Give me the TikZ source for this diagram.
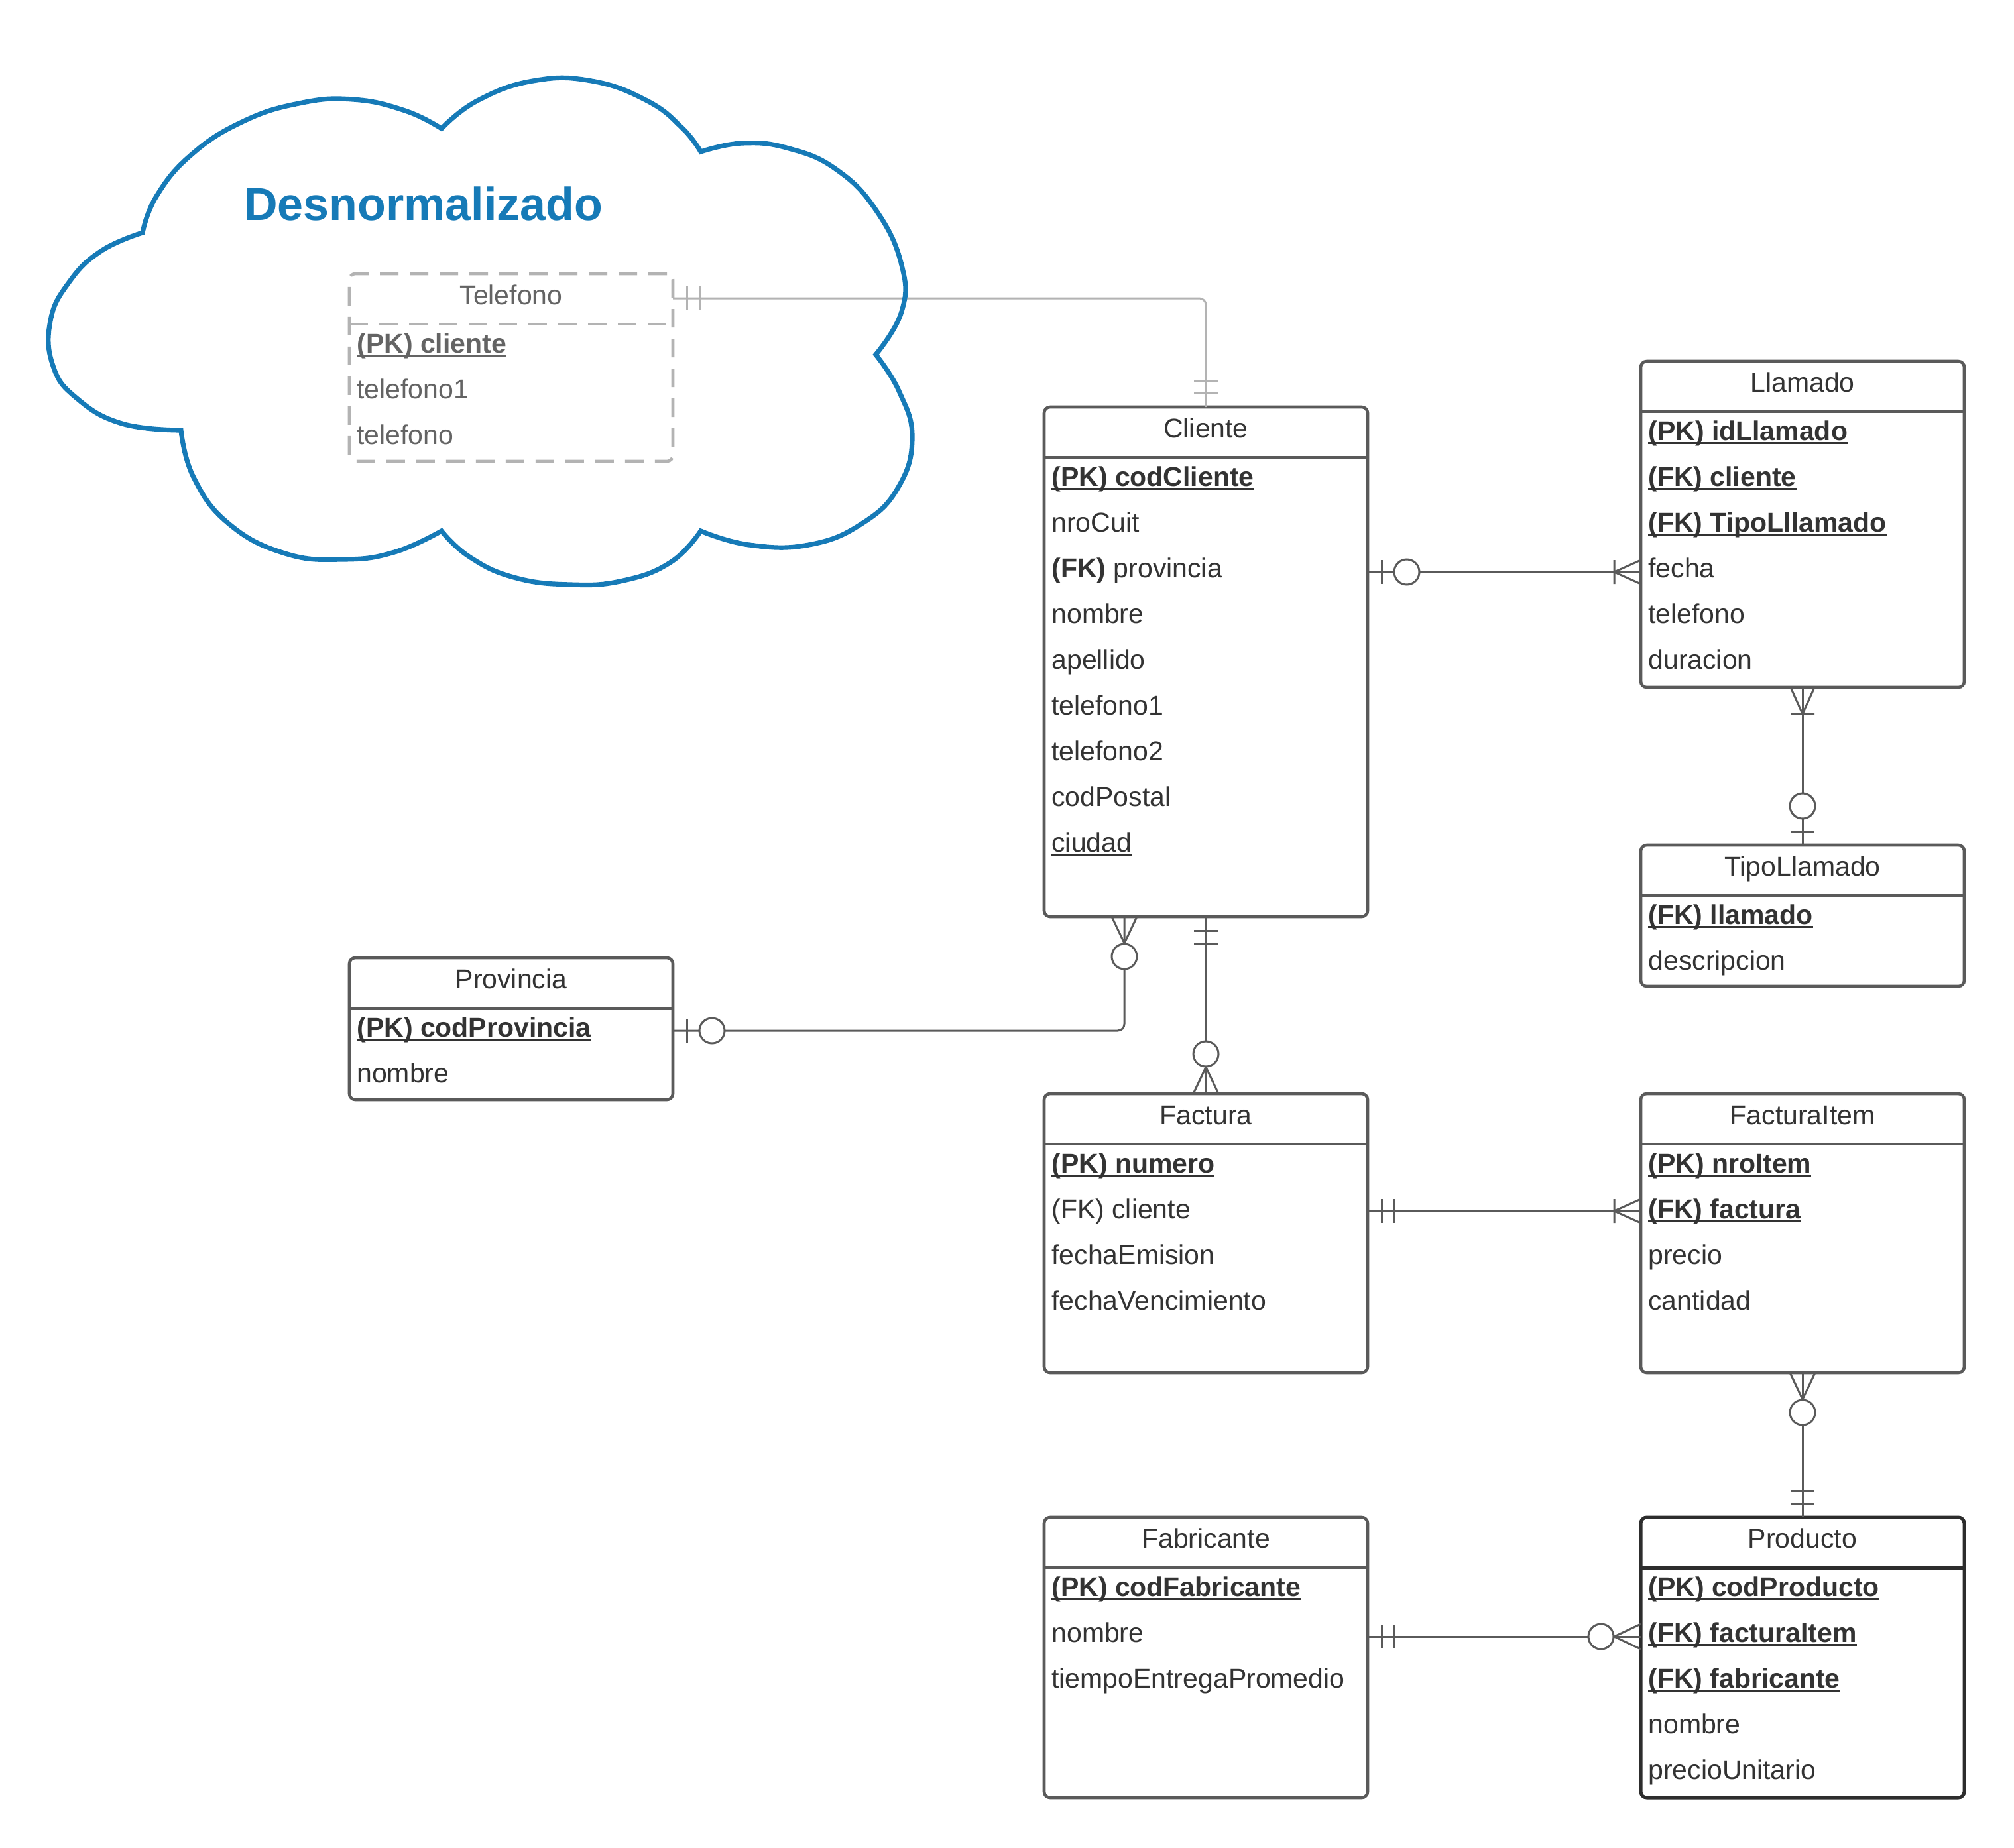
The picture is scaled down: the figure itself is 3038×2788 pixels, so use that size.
\documentclass[tikz,border=0pt]{standalone}
\usepackage{fontspec}
\setmainfont{Liberation Sans}
\usetikzlibrary{fit}

\definecolor{ink}{RGB}{51,51,51}
\definecolor{edge}{RGB}{90,90,90}
\definecolor{darkedge}{RGB}{45,45,45}
\definecolor{ghost}{RGB}{179,179,179}
\definecolor{ghosttext}{RGB}{100,100,100}
\definecolor{cloudblue}{RGB}{22,122,183}

% underline that crosses the parentheses, Arial-like position
\newcommand\ulx[1]{\setbox0\hbox{#1}\rlap{\rule[-2.9pt]{\wd0}{1.7pt}}\box0}
\newcommand\pk[1]{\ulx{\textbf{#1}}}

\tikzset{
  x=0.5pt, y=-0.5pt,
  txt/.style={inner sep=0pt, font=\fontsize{20.5pt}{24pt}\selectfont},
  % entity themes: plain, strong, faded
  plain box/.style={draw=edge, line width=2.3pt, fill=white, rounded corners=4.5pt, inner sep=0pt, outer sep=0pt},
  plain line/.style={draw=edge, line width=2.3pt},
  plain text/.style={txt, text=ink},
  strong box/.style={draw=darkedge, line width=2.5pt, fill=white, rounded corners=4.5pt, inner sep=0pt, outer sep=0pt},
  strong line/.style={draw=darkedge, line width=2.5pt},
  strong text/.style={txt, text=ink},
  faded box/.style={draw=ghost, line width=2.3pt, fill=white, rounded corners=4.5pt, inner sep=0pt, outer sep=0pt, dash pattern=on 14pt off 8.5pt},
  faded line/.style={draw=ghost, line width=2.3pt, dash pattern=on 14pt off 8.5pt},
  faded text/.style={txt, text=ghosttext},
  rel/.style={draw=edge, line width=1.5pt},
  faded rel/.style={draw=ghost, line width=1.5pt},
  % crow's foot end markers, local x points away from the entity
  mk two/.pic={\draw (21,-18) -- (21,18) (40,-18) -- (40,18);},
  mk zero one/.pic={\draw (21,-18) -- (21,18); \draw[fill=white] (59,0) circle[radius=19];},
  mk one many/.pic={\draw (0,-18) -- (40,0) -- (0,18) (40,-18) -- (40,18);},
  mk zero many/.pic={\draw (0,-19) -- (40,0) -- (0,19); \draw[fill=white] (60,0) circle[radius=19];},
  lobe/.style={smooth, tension=0.75},
}

% #1 theme, #2 name, #3 left, #4 top, #5 bottom, #6 title, #7 attribute rows
\newcommand\entity[7][plain]{%
  \node[#1 box, fit={(#3,#4) (#3+488,#5)}] (#2) {};
  \draw[#1 line] ([yshift=-38pt]#2.north west) -- ([yshift=-38pt]#2.north east);
  \node[#1 text, anchor=base] (#2-title) at ([yshift=-23pt]#2.north) {#6};
  \foreach \txt [count=\k from 0] in {#7}
    \node[#1 text, anchor=base west] (#2-\k) at ([xshift=5.5pt,yshift={-59.75pt-34.5pt*\k}]#2.north west) {\txt};
}

\begin{document}
\begin{tikzpicture}
\fill[white] (0,0) rectangle (3038,2788);
\useasboundingbox (0,0) rectangle (3038,2788);

% entities
\entity[faded]{telefono}{527}{413}{696}{Telefono}{\pk{(PK) cliente}, telefono1, telefono}
\entity{cliente}{1575}{614}{1383}{Cliente}{\pk{(PK) codCliente}, nroCuit, \textbf{(FK)} provincia, nombre, apellido, telefono1, telefono2, codPostal, \ulx{ciudad}}
\entity{llamado}{2475}{545}{1037}{Llamado}{\pk{(PK) idLlamado}, \pk{(FK) cliente}, \pk{(FK) TipoLllamado}, fecha, telefono, duracion}
\entity{tipo}{2475}{1275}{1488}{TipoLlamado}{\pk{(FK) llamado}, descripcion}
\entity{provincia}{527}{1445}{1659}{Provincia}{\pk{(PK) codProvincia}, nombre}
\entity{factura}{1575}{1650}{2071}{Factura}{\pk{(PK) numero}, (FK) cliente, fechaEmision, fechaVencimiento}
\entity{facturaitem}{2475}{1650}{2071}{FacturaItem}{\pk{(PK) nroItem}, \pk{(FK) factura}, precio, cantidad}
\entity{fabricante}{1575}{2289}{2712}{Fabricante}{\pk{(PK) codFabricante}, nombre, tiempoEntregaPromedio}
\entity[strong]{producto}{2475}{2289}{2712}{Producto}{\pk{(PK) codProducto}, \pk{(FK) facturaItem}, \pk{(FK) fabricante}, nombre, precioUnitario}

% relationships
\draw[faded rel, rounded corners=5pt] (telefono.east |- 0,450) -| (cliente.north);
\pic[faded rel] at (telefono.east |- 0,450) {mk two};
\pic[faded rel, rotate=90] at (cliente.north) {mk two};

\draw[rel] (cliente.east |- 0,863) -- (llamado.west |- 0,863);
\pic[rel] at (cliente.east |- 0,863) {mk zero one};
\pic[rel, rotate=180] at (llamado.west |- 0,863) {mk one many};

\draw[rel] (llamado.south) -- (tipo.north);
\pic[rel, rotate=-90] at (llamado.south) {mk one many};
\pic[rel, rotate=90] at (tipo.north) {mk zero one};

\draw[rel, rounded corners=5pt] (cliente.south -| 1696,0) |- (provincia.east |- 0,1555);
\pic[rel, rotate=-90] at (cliente.south -| 1696,0) {mk zero many};
\pic[rel] at (provincia.east |- 0,1555) {mk zero one};

\draw[rel] (cliente.south) -- (factura.north);
\pic[rel, rotate=-90] at (cliente.south) {mk two};
\pic[rel, rotate=90] at (factura.north) {mk zero many};

\draw[rel] (factura.east |- 0,1827) -- (facturaitem.west |- 0,1827);
\pic[rel] at (factura.east |- 0,1827) {mk two};
\pic[rel, rotate=180] at (facturaitem.west |- 0,1827) {mk one many};

\draw[rel] (facturaitem.south) -- (producto.north);
\pic[rel, rotate=-90] at (facturaitem.south) {mk zero many};
\pic[rel, rotate=90] at (producto.north) {mk two};

\draw[rel] (fabricante.east |- 0,2469) -- (producto.west |- 0,2469);
\pic[rel] at (fabricante.east |- 0,2469) {mk two};
\pic[rel, rotate=180] at (producto.west |- 0,2469) {mk zero many};

% cloud around the denormalised table, one smooth arc per lobe
\draw[cloudblue, line width=3.6pt, line join=miter]
  plot[lobe] coordinates {(215,351) (236,296) (288,234) (365,184) (451,156) (532,150) (611,167) (666,194)}
  -- plot[lobe] coordinates {(666,194) (720,152) (804,122) (892,122) (976,152) (1029,193) (1057,229)}
  -- plot[lobe] coordinates {(1057,229) (1120,216) (1190,224) (1262,256) (1322,318) (1360,400) (1360,470) (1321,535)}
  -- plot[lobe] coordinates {(1321,535) (1356,590) (1376,660) (1355,735) (1300,790) (1220,822) (1130,822) (1057,801)}
  -- plot[lobe] coordinates {(1057,801) (1012,848) (940,876) (860,882) (775,871) (708,840) (666,801)}
  -- plot[lobe] coordinates {(666,801) (595,833) (518,844) (430,835) (345,790) (292,720) (273,649)}
  -- plot[lobe] coordinates {(273,649) (184,639) (116,601) (80,552) (76,484) (104,426) (152,379) (215,351)}
  -- cycle;

\node[anchor=base west, inner sep=0pt, text=cloudblue, font=\bfseries\fontsize{35pt}{40pt}\selectfont] (cloudtitle) at (368,333) {Desnormalizado};
\end{tikzpicture}
\end{document}
